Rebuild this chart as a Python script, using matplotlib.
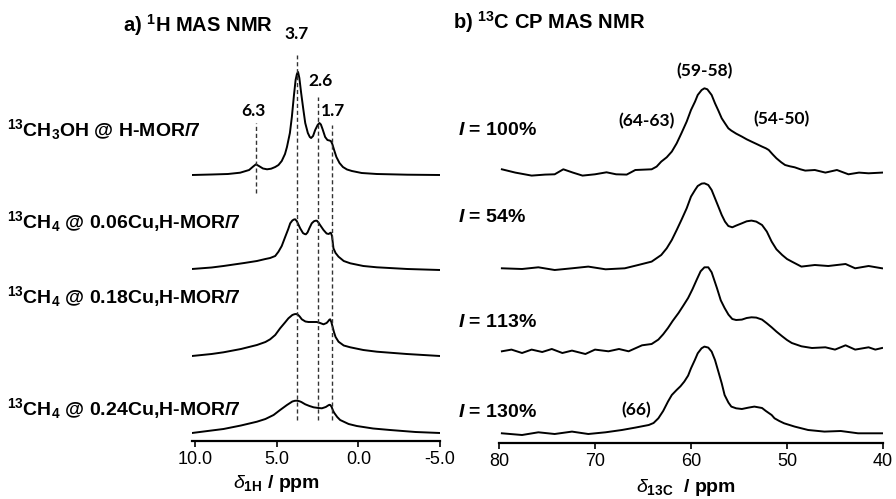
import matplotlib
matplotlib.use('Agg')
import matplotlib.pyplot as plt
import numpy as np

plt.rcParams['font.family'] = ['Liberation Sans', 'DejaVu Sans']
plt.rcParams['axes.unicode_minus'] = False
plt.rcParams['mathtext.fontset'] = 'custom'
plt.rcParams['mathtext.rm'] = 'Liberation Sans:bold'
plt.rcParams['mathtext.bf'] = 'Liberation Sans:bold'
plt.rcParams['mathtext.it'] = 'Liberation Sans:italic'
plt.rcParams['mathtext.sf'] = 'Liberation Sans:bold:italic'

# ---- 1H MAS NMR spectra (ppm, height above baseline) ----
h1_ch3oh_ppm = [10.2, 9.0, 8.0, 7.25, 6.7, 6.45, 6.28, 6.1, 5.85, 5.6, 5.35, 5.1, 4.9, 4.7, 4.5, 4.38,
                4.2, 4.08, 3.95, 3.85, 3.77, 3.7, 3.62, 3.51, 3.38, 3.26, 3.1, 2.98, 2.9, 2.78, 2.65,
                2.5, 2.39, 2.3, 2.2, 2.04, 1.9, 1.78, 1.69, 1.6, 1.49, 1.35, 1.16, 0.95, 0.7, 0.4,
                -0.2, -1.13, -3.0, -5.0]
h1_ch3oh_int = [0, 0.5, 1, 2.3, 5, 8.5, 10.7, 9, 6.5, 5.7, 6.3, 8, 10, 14, 21, 28,
                42, 58, 80, 95, 101, 103, 97, 82, 66, 52, 42, 38, 37, 39, 45,
                50, 52, 50.5, 46, 38, 35, 34.5, 34, 31, 25, 18, 12, 8, 5.5, 4,
                2, 1, 0.3, 0]

h1_cu006_ppm = [10.2, 9.0, 8.27, 7.0, 6.22, 5.7, 5.41, 5.1, 4.9, 4.7, 4.49, 4.3, 4.18, 4.05, 3.95,
                3.88, 3.78, 3.68, 3.57, 3.4, 3.3, 3.22, 3.12, 3.0, 2.86, 2.72, 2.62, 2.55, 2.45, 2.35,
                2.14, 1.95, 1.82, 1.74, 1.69, 1.62, 1.53, 1.4, 1.22, 0.9, 0.5, -0.3, -1.13, -3.0,
                -5.0]
h1_cu006_int = [1, 2.5, 4, 7, 9, 11, 12, 14, 18.3, 24, 33, 41, 46.7, 49.5, 50.5,
                50.7, 49, 45.5, 41.7, 37, 36, 35.7, 37.5, 42, 46.7, 48.8, 49.3, 49.3, 47.5, 45,
                40, 36.5, 36, 37, 37.3, 34, 21.7, 17, 13.3, 9, 6.7, 4, 2.7, 1,
                0]

h1_cu018_ppm = [10.2, 9.0, 8.27, 7.2, 6.22, 5.7, 5.41, 5.1, 4.8, 4.5, 4.29, 4.05, 3.92, 3.82, 3.72,
                3.6, 3.47, 3.25, 3.06, 2.8, 2.55, 2.35, 2.14, 1.95, 1.85, 1.78, 1.73, 1.66, 1.58,
                1.5, 1.4, 1.22, 0.9, 0.5, -0.3, -1.13, -2.96, -5.0]
h1_cu018_int = [0, 2, 3.7, 7, 11, 14, 16.7, 21, 27.7, 33.5, 37.7, 41, 41.8, 42, 41.5,
                39.5, 36.7, 34.5, 34, 34, 34, 33, 31.7, 33, 34.8, 36.3, 36.7, 34, 29,
                24, 19, 14.3, 10.5, 8.7, 6, 4.3, 2, 0]

h1_cu024_ppm = [10.2, 9.0, 8.27, 7.2, 6.22, 5.7, 5.2, 4.8, 4.38, 4.05, 3.9, 3.77, 3.62, 3.5, 3.26,
                3.0, 2.75, 2.45, 2.24, 2.0, 1.86, 1.78, 1.72, 1.64, 1.56, 1.49, 1.3, 1.12, 0.6, 0.1,
                -0.9, -1.94, -3.5, -5.0]
h1_cu024_int = [0, 2.5, 4, 7.5, 11.3, 14, 18, 23, 28, 31.5, 32.2, 32.3, 31.8, 31, 28.7,
                27, 25.7, 25, 24.7, 26, 27.5, 28.2, 28, 26, 22.5, 20.3, 16, 13, 9, 7,
                4.5, 3, 1, 0]

h1_labels = [r'$^{13}$CH$_{3}$OH @ H-MOR/7',
             r'$^{13}$CH$_{4}$ @ 0.06Cu,H-MOR/7',
             r'$^{13}$CH$_{4}$ @ 0.18Cu,H-MOR/7',
             r'$^{13}$CH$_{4}$ @ 0.24Cu,H-MOR/7']

# dashed guide lines (position ppm, label)
guide_ppm = [6.28, 3.77, 2.45, 1.63]
guide_text = ['6.3', '3.7', '2.6', '1.7']

# ---- 13C CP MAS NMR spectra ----
c13_ch3oh_ppm = [79.7, 78.3, 76.6, 75.2, 74.2, 73.3, 72.3, 71.3, 70.0, 68.8, 67.8, 66.7, 65.8, 64.1,
                 63.58, 63.1, 62.53, 62.0, 61.49, 61.0, 60.45, 60.0, 59.58, 59.3, 58.89, 58.6, 58.3,
                 57.85, 57.5, 57.15, 56.8, 56.46, 56.11, 55.8, 55.3, 54.7, 54.2, 53.7, 53.1, 52.6,
                 52.2, 51.9, 51.5, 51.1, 50.6, 50.2, 49.7, 49.2, 48.6, 48.1, 47.1, 46.0, 44.8, 43.6,
                 42.5, 41.5, 40.1]
c13_ch3oh_int = [4, 0.7, -2.3, -1.3, -1, 4, 0.7, -2.3, -1, 1, -1, -1.3, 3.3, 4,
                 6.7, 11.7, 16, 21.7, 30, 40, 51.7, 63.3, 71.7, 78.3, 83.3, 85, 84,
                 78.3, 70, 62.7, 55, 50, 45, 42.7, 39.7, 36.7, 34, 31.7, 29, 26.7,
                 25, 23.3, 19, 15, 11, 8.3, 7, 6, 4, 2.7, 3.3, 0.7, 3.3, -1,
                 0.7, 0, 0.7]

c13_cu006_ppm = [79.7, 77.6, 75.9, 74.2, 72.4, 70.7, 68.9, 66.9, 65.5, 64.1, 63.1, 62.53, 62.0, 61.49,
                 61.0, 60.45, 60.0, 59.58, 59.3, 58.89, 58.6, 58.2, 57.85, 57.5, 57.15, 56.8, 56.46,
                 56.11, 55.7, 55.3, 54.7, 54.2, 53.7, 53.2, 52.6, 52.1, 51.6, 51.1, 50.5, 50.0, 49.5,
                 48.5, 47.1, 45.7, 43.9, 42.9, 41.5, 40.1]
c13_cu006_int = [0, -0.7, 1, -1.7, 0, 1.7, -1, 0, 3.3, 6.7, 13.3, 20, 28.3, 38.3,
                 48.3, 60, 71.7, 78.3, 82.3, 84.7, 85, 83.3, 78.3, 70, 61.7, 53.3, 46.7,
                 42.3, 41, 42.7, 45, 47, 47.7, 46.7, 43.3, 36.7, 26.7, 19, 13.3, 9.3, 6.7,
                 1.7, 3.3, 2.3, 4.3, 0, 2.3, 0]

c13_cu018_ppm = [79.7, 78.7, 77.6, 76.6, 75.5, 74.5, 73.4, 72.4, 71.0, 70.0, 68.6, 67.5, 66.5, 65.1,
                 64.1, 63.4, 62.9, 62.4, 61.9, 61.3, 60.8, 60.3, 59.85, 59.4, 59.0, 58.6, 58.2,
                 57.85, 57.3, 56.9, 56.5, 56.1, 55.7, 55.3, 54.7, 54.2, 53.7, 53.2, 52.6, 52.1,
                 51.6, 51.1, 50.5, 50.0, 49.5, 48.5, 47.4, 46.0, 45.0, 43.9, 42.9, 41.5, 40.8,
                 40.1]
c13_cu018_int = [0, 1.7, -1.7, 1.7, -0.7, 2.3, -1.7, 0.7, -2.7, 1.7, 0, 2.3, 0, 6,
                 7.3, 11.7, 17, 23.3, 30.5, 38.3, 45.7, 53.3, 62, 71.7, 80, 84, 84,
                 79, 63.3, 51, 43.3, 36.7, 32.3, 31.3, 31.7, 33.3, 34, 33.7, 31.7, 28,
                 24, 19.7, 15, 11.3, 8.3, 5, 3.3, 4, 1.7, 6, 1.7, 4, 1.7,
                 3.3]

c13_cu024_ppm = [79.7, 77.6, 75.9, 74.2, 72.4, 70.7, 68.9, 67.2, 65.8, 64.4, 63.9, 63.4, 62.9, 62.4,
                 62.0, 61.5, 61.1, 60.7, 60.3, 60.0, 59.6, 59.3, 58.9, 58.6, 58.2, 57.85, 57.5,
                 57.15, 56.8, 56.5, 56.1, 55.8, 55.3, 54.7, 54.0, 53.4, 52.6, 52.2, 51.6, 51.3,
                 50.8, 50.3, 49.2, 47.8, 46.1, 44.4, 42.6, 40.1]
c13_cu024_int = [0, -1.7, 1, -0.7, 1.7, -0.7, 1, 3.3, 5.7, 8.3, 10.3, 15, 22.3, 31.7,
                 38.3, 43.3, 47, 51.7, 57.7, 65, 73.3, 80, 85, 86.7, 85.7, 81.7, 73.3,
                 61.7, 50, 38.3, 30.7, 26.7, 25, 24.3, 25.7, 26.7, 25.3, 22.3, 18.3, 15,
                 12.3, 10, 6.7, 3.3, 1.7, 2.3, 0, 0]

c13_labels = ['100%', '54%', '113%', '130%']

# stacking offsets
h1_offsets = [258, 163, 77, 0]
c13_offsets = [260, 165, 82, 0]

W, H = 896, 499
fig = plt.figure(figsize=(W / 100, H / 100), dpi=100)


def px(x, y):
    return x / W, 1 - y / H


def style_axis(ax, ticks, fmt):
    for s in ['left', 'right', 'top']:
        ax.spines[s].set_visible(False)
    ax.spines['bottom'].set_linewidth(1.6)
    ax.set_yticks([])
    ax.set_xticks(ticks)
    ax.set_xticklabels([fmt.format(t) for t in ticks], fontsize=13)
    ax.tick_params(axis='x', direction='out', length=4, width=1.2, pad=3)
    ax.patch.set_alpha(0)


# left panel
ax1 = fig.add_axes([192 / W, (H - 441) / H, 248 / W, (441 - 30) / H])
ax1.set_xlim(10.2, -5)
ax1.set_ylim(-8, 403)
style_axis(ax1, [10, 5, 0, -5], '{:.1f}')

h1_ppm = [h1_ch3oh_ppm, h1_cu006_ppm, h1_cu018_ppm, h1_cu024_ppm]
h1_int = [h1_ch3oh_int, h1_cu006_int, h1_cu018_int, h1_cu024_int]
for xs, ys, off in zip(h1_ppm, h1_int, h1_offsets):
    ax1.plot(xs, np.array(ys) + off, color='black', lw=1.4, solid_joinstyle='round')

guide_top = [310, 378, 336, 308]
guide_bot = [240, 13, 13, 13]
ax1.vlines(guide_ppm, guide_bot, guide_top, colors='#333333', lw=1.0, linestyles=(0, (3, 2)))

# peak labels
peak_lbl_xy = [(253, 111), (297, 34), (320, 81), (333, 111)]
for t, (x, y) in zip(guide_text, peak_lbl_xy):
    fig.text(*px(x, y), t, family='Lato', weight='bold', fontsize=12.5, ha='center', va='center')

# sample labels
h1_lbl_y = [136, 228, 303, 415]
for t, y in zip(h1_labels, h1_lbl_y):
    fig.text(*px(7, y), t, fontsize=14, weight='bold', ha='left', va='baseline')

fig.text(*px(123, 32), r'a) $^{1}$H MAS NMR', fontsize=14.5, weight='bold', ha='left', va='baseline')
fig.text(*px(276, 483), r'$\delta_{\mathrm{1H}}$ $\mathbf{/\ ppm}$', fontsize=14, ha='center', va='center')

# right panel
ax2 = fig.add_axes([499 / W, (H - 443) / H, 384 / W, (443 - 30) / H])
ax2.set_xlim(80, 40)
ax2.set_ylim(-9.7, 403.3)
style_axis(ax2, [80, 70, 60, 50, 40], '{:d}')

c13_ppm = [c13_ch3oh_ppm, c13_cu006_ppm, c13_cu018_ppm, c13_cu024_ppm]
c13_int = [c13_ch3oh_int, c13_cu006_int, c13_cu018_int, c13_cu024_int]
for xs, ys, off in zip(c13_ppm, c13_int, c13_offsets):
    ax2.plot(xs, np.array(ys) + off, color='black', lw=1.4, solid_joinstyle='round')

c13_lbl_y = [135, 222, 327, 417]
for t, y in zip(c13_labels, c13_lbl_y):
    fig.text(*px(458, y), r'$\mathsf{I}$ = ' + t, fontsize=14, weight='bold', ha='left', va='baseline')

region_text = ['(59-58)', '(64-63)', '(54-50)', '(66)']
region_xy = [(705, 71), (647, 121), (782, 119), (636, 410)]
for t, (x, y) in zip(region_text, region_xy):
    fig.text(*px(x, y), t, family='Lato', weight='bold', fontsize=12.5, ha='center', va='center')

fig.text(*px(453, 29), r'b) $^{13}$C CP MAS NMR', fontsize=14.5, weight='bold', ha='left', va='baseline')
fig.text(*px(686, 487), r'$\delta_{\mathrm{13C}}$  $\mathbf{/\ ppm}$', fontsize=14, ha='center', va='center')

fig.savefig('out.png', dpi=100)
